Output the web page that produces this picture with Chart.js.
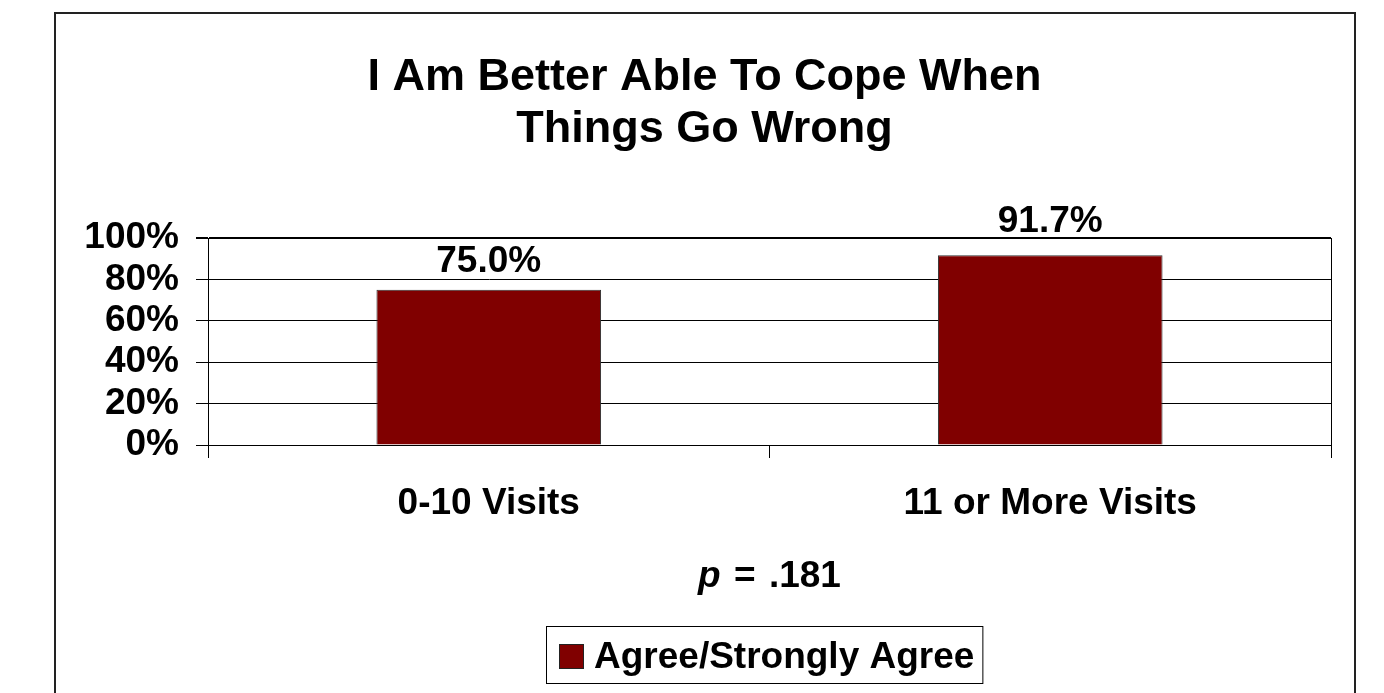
<!DOCTYPE html>
<html>
<head>
<meta charset="utf-8">
<title>I Am Better Able To Cope When Things Go Wrong</title>
<script src="https://cdn.jsdelivr.net/npm/chart.js@4.4.0/dist/chart.umd.min.js"></script>
<style>
    html, body { margin: 0; padding: 0; background: #fff; }
    #wrap { width: 1384px; height: 693px; }
</style>
</head>
<body>
<div id="wrap"><canvas id="copeChart" width="1384" height="693"></canvas></div>
<script>
// Share who agree, split by number of visits
const categories = ['0-10 Visits', '11 or More Visits'];
const agreeValues = [75.0, 91.7];
const yTicks = [0, 20, 40, 60, 80, 100];
const seriesName = 'Agree/Strongly Agree';
const titleLines = ['I Am Better Able To Cope When', 'Things Go Wrong'];
const pValue = '.181';

const FONT = '"Liberation Sans", Arial, Helvetica, sans-serif';
const BAR_COLOR = '#800000';

// White page plus the outer frame
const framePlugin = {
    id: 'frame',
    beforeDraw(chart) {
        const ctx = chart.ctx;
        ctx.save();
        ctx.fillStyle = '#fff';
        ctx.fillRect(0, 0, chart.width, chart.height);
        ctx.strokeStyle = '#222';
        ctx.lineWidth = 2;
        ctx.strokeRect(55, 13, 1300, chart.height + 20);
        ctx.restore();
    }
};

// Percentage above each bar; a label that would sit on the plot box
// top edge is lifted just above it
const valueLabels = {
    id: 'valueLabels',
    afterDatasetsDraw(chart) {
        const ctx = chart.ctx;
        const meta = chart.getDatasetMeta(0);
        const values = chart.data.datasets[0].data;
        const top = chart.chartArea.top;
        const capH = 27;
        ctx.save();
        ctx.font = 'bold 37px ' + FONT;
        ctx.fillStyle = '#000';
        ctx.textAlign = 'center';
        ctx.textBaseline = 'alphabetic';
        meta.data.forEach((bar, i) => {
            let y = bar.y - 18;
            if (y - capH < top + 4 && y > top - 6) y = top - 6;
            ctx.fillText(values[i].toFixed(1) + '%', bar.x, y);
        });
        ctx.restore();
    }
};

// p-value note and boxed legend under the axis
const footer = {
    id: 'footer',
    afterDraw(chart) {
        const ctx = chart.ctx;
        const area = chart.chartArea;
        const cx = (area.left + area.right) / 2;
        ctx.save();
        ctx.fillStyle = '#000';
        ctx.textBaseline = 'alphabetic';
        ctx.textAlign = 'left';

        // p = .181, a little extra room around the equals sign
        const italic = 'italic bold 37px ' + FONT;
        const bold = 'bold 37px ' + FONT;
        const gap = 3;
        ctx.font = italic;
        const pW = ctx.measureText('p').width;
        ctx.font = bold;
        const spaceW = ctx.measureText(' ').width;
        const eqW = ctx.measureText('=').width;
        const numW = ctx.measureText(pValue).width;
        const total = pW + 2 * (spaceW + gap) + eqW + numW;
        let x = cx - total / 2;
        ctx.font = italic;
        ctx.fillText('p', x, 587);
        x += pW + spaceW + gap;
        ctx.font = bold;
        ctx.fillText('=', x, 587);
        x += eqW + spaceW + gap;
        ctx.fillText(pValue, x, 587);

        // legend
        const ds = chart.data.datasets[0];
        ctx.font = bold;
        const textW = ctx.measureText(ds.label).width;
        const boxW = 13 + 24 + 11 + textW + 8;
        const left = Math.round(cx - 5 - boxW / 2);
        ctx.strokeStyle = '#000';
        ctx.lineWidth = 1;
        ctx.strokeRect(left + 0.5, 626.5, boxW, 57);
        ctx.fillStyle = ds.backgroundColor;
        ctx.fillRect(left + 13, 644, 24, 24);
        ctx.strokeStyle = '#222';
        ctx.strokeRect(left + 13.5, 644.5, 24, 24);
        ctx.fillStyle = '#000';
        ctx.fillText(ds.label, left + 13 + 24 + 11, 668);
        ctx.restore();
    }
};

const ctx = document.getElementById('copeChart').getContext('2d');
const copeChart = new Chart(ctx, {
    type: 'bar',
    data: {
        labels: categories,
        datasets: [{
            label: seriesName,
            data: agreeValues,
            backgroundColor: BAR_COLOR,
            borderColor: '#333',
            borderWidth: 1,
            categoryPercentage: 1.0,
            barPercentage: 0.4
        }]
    },
    options: {
        responsive: false,
        animation: false,
        layout: {
            padding: { left: 54, right: 29, top: 12, bottom: 148 }
        },
        plugins: {
            legend: { display: false },
            tooltip: { enabled: false },
            title: {
                display: true,
                text: titleLines,
                color: '#000',
                font: { family: FONT, size: 45, weight: 'bold', lineHeight: 1.156 },
                padding: { top: 40, bottom: 82 }
            }
        },
        scales: {
            x: {
                offset: true,
                grid: {
                    offset: true,
                    drawOnChartArea: false,
                    drawTicks: true,
                    tickLength: 13,
                    color: '#000',
                    tickColor: '#000'
                },
                border: { display: true, color: '#000', width: 1 },
                ticks: {
                    color: '#000',
                    padding: 24,
                    maxRotation: 0,
                    font: { family: FONT, size: 37, weight: 'bold' }
                },
                afterFit(scale) { scale.height = 100; }
            },
            y: {
                min: 0,
                max: 100,
                afterBuildTicks(axis) {
                    axis.ticks = yTicks.map(v => ({ value: v }));
                },
                grid: {
                    color: '#000',
                    tickColor: '#000',
                    tickLength: 12,
                    // top edge of the plot box is a little heavier
                    lineWidth: c => (c.tick && c.tick.value === 100 ? 2 : 1)
                },
                border: { display: true, color: '#000', width: 1 },
                ticks: {
                    color: '#000',
                    padding: 17,
                    autoSkip: false,
                    font: { family: FONT, size: 37, weight: 'bold', lineHeight: 1.0 },
                    callback: v => v + '%'
                },
                afterFit(scale) { scale.width = 154; }
            },
            // right-hand edge of the plot box
            yRight: {
                type: 'linear',
                position: 'right',
                min: 0,
                max: 100,
                grid: { drawOnChartArea: false, drawTicks: false },
                border: { display: true, color: '#000', width: 1 },
                ticks: { display: false },
                afterFit(scale) { scale.width = 24; }
            }
        }
    },
    plugins: [framePlugin, valueLabels, footer]
});
</script>
</body>
</html>
